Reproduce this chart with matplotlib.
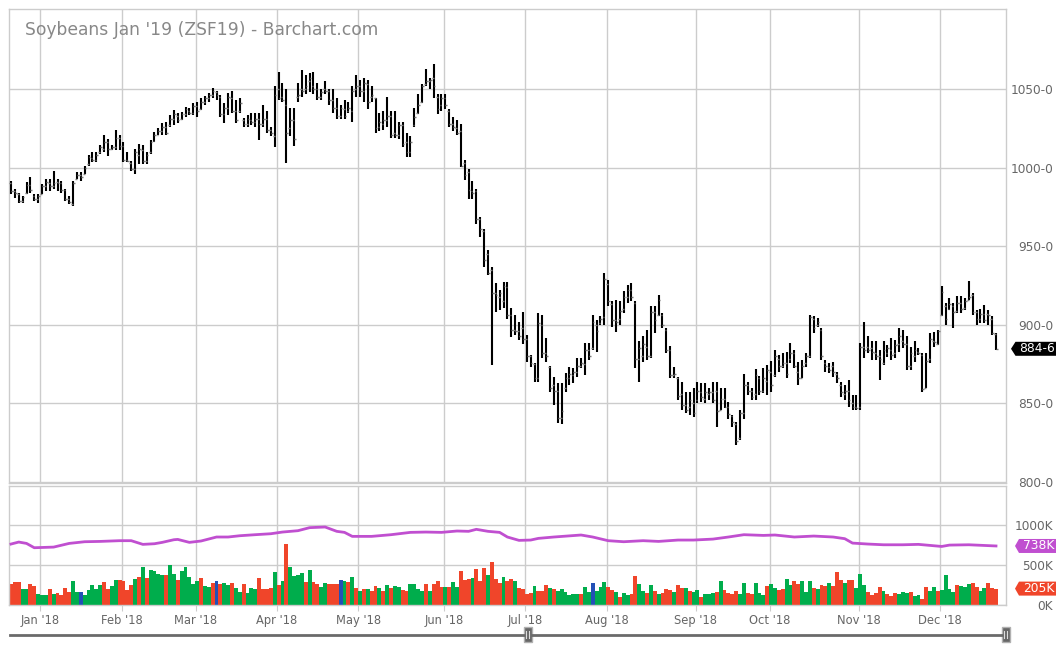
import matplotlib
matplotlib.use("Agg")
import matplotlib.pyplot as plt
import numpy as np
from matplotlib.patches import Polygon, Rectangle

# ---------------- data (daily OHLC, Dec 2017 - Dec 2018) ----------------
opens = [990,985,983,979,984,989,982,980,
         983,988,990,988,991,990,986,980,977,993,995,996,1002,1006,1005,1010,1012,1016,1012,1013,1019,
         1014,1005,1003,999,1008,1011,1004,1010,1017,1021,1023,1026,1027,1031,1033,1031,1034,1036,1035,
         1039,1037,1042,1044,1046,1048,1045,1034,1038,1044,1036,1036,1030,1028,1030,1029,1031,1028,1031,1024,
         1020,1050,1045,1040,1025,1030,1045,1050,1050,1055,1052,1050,1045,1050,1049,1043,1038,1033,1037,1036,1036,
         1050,1052,1049,1053,1045,1044,1026,1028,1030,1033,1022,1021,1027,1016,1010,1027,1035,1042,1053,1055,1057,1045,
         1040,1044,1036,1028,1025,1023,1003,997,985,985,967,960,945,935,920,918,915,924,906,897,896,
         898,891,880,875,866,900,882,873,862,858,841,860,866,868,870,874,875,884,885,900,901,
         905,926,913,903,904,910,918,922,914,878,880,886,880,908,906,906,897,884,868,866,856,849,848,
         850,852,857,853,856,857,858,846,853,848,842,837,828,844,862,858,856,866,858,
         864,870,868,878,874,876,878,882,870,866,876,880,904,900,897,876,873,874,869,862,856,858,850,
         848,848,886,886,885,882,880,876,882,884,882,888,890,888,874,880,883,881,860,878,890,888,
         906,912,910,912,909,914,911,916,919,908,904,907,907,904,894]
highs = [991.6,986.3,984.1,981.9,990.6,994.2,983,983,
         989.5,992.7,992.7,998.1,992.7,991.6,986.3,981.9,991.6,997.4,997,1001.3,1008.2,1009.9,1009.9,1014.2,1020.6,1018.5,1014.2,1023.8,1020.6,
         1016.3,1009.9,1004.5,1012,1015.2,1014.2,1009.9,1017.4,1022.7,1024.9,1028.1,1029.2,1033.5,1036.7,1034.5,1035.6,1038.8,1037.8,1041,
         1042,1044.2,1045.3,1047.4,1050.6,1048.5,1046.4,1041,1047.4,1048.5,1043.1,1044.2,1031.3,1033.5,1034.5,1034.5,1034.5,1040,1036,1026,
         1052,1061,1054,1050,1038,1038,1054,1062,1059,1060,1061,1054,1050,1055,1050,1050,1044,1040,1043,1042,1052,
         1059,1056,1057,1056,1052,1044,1035,1036,1045,1036,1036,1029,1029,1022,1020,1038,1047,1053,1063,1057,1066,1047,
         1047,1047,1037,1032,1030,1028,1004.7,999,991.5,986.7,968.6,961.2,947.5,936.9,926.3,922,927.3,927.3,910.4,906.1,901.9,
         908.3,893.6,880.9,875.5,907.4,906.4,891.5,873.8,867,862.8,862.8,869.1,873.4,872.3,878.7,878.7,888.3,888.3,906.4,903.2,905.3,
         933,928.7,914.9,916,914.9,921.3,925.5,926.6,914.9,889.4,892.6,896.8,911.7,911.7,919.1,907.4,897.9,886.6,873.4,867,863.8,857.4,857.4,
         859.6,863.8,862.8,862.8,859.6,863.8,863.8,859.6,859.6,851,842.6,838.3,845.7,868.7,863.8,859.6,871.7,867.4,872.3,
         874.5,877.2,884,880.9,881.9,883,888.3,884,876.6,877.7,881.9,906.4,905.7,904.3,897.9,877.7,875.5,876.6,870.2,863.8,861.7,864.9,855.3,
         855.3,888.3,901.5,892.6,889.4,889.4,884,889.4,887.2,891.5,890.4,897.9,896.8,892.6,886.2,889.4,885.1,881.9,881.9,895.1,895.7,896.8,
         924.5,913.8,917,913.8,918.5,918.1,917,927.7,920.2,909.6,910,912.8,909.6,905.3,894.7]
lows = [983,980.9,977.7,977.7,983,984.1,978.8,977.7,
        983,985.2,985.2,986.3,985.2,984.1,978.8,976.6,975.5,992.7,991.6,995.9,1001.3,1003.4,1003.4,1008.8,1009.9,1007.7,1010.9,1010.9,1010.9,
        1003.4,1003.4,998.1,995.9,1002.4,1002.4,1002.4,1008.8,1016.3,1020.6,1020.6,1020.6,1026,1027,1028.1,1030.3,1032.4,1033.5,1033.5,
        1032.4,1036.7,1039.9,1042,1044.2,1043.1,1032.4,1028.1,1033.5,1034.5,1028.1,1034.5,1026,1026,1027,1026,1017.4,1026,1022,1020,
        1013,1043,1042,1003,1020,1014,1042,1045,1047,1048,1047,1043,1043,1047,1040,1035,1031,1031,1031,1035,1029,
        1045,1045,1042,1037,1042,1022,1023,1024,1026,1019,1019,1018,1013,1007,1007,1026,1034,1041,1052,1050,1044,1034,
        1036,1037,1026,1023,1021,1000.4,992,980.3,980.3,964.4,955.9,936.9,931.6,874.4,908.3,909.3,910.4,904,892.4,893.4,890.3,
        888.1,876.6,873.4,863.8,863.8,878.7,876.6,857.4,849,837.7,837.2,857.4,861.7,862.8,867,872.3,868.1,877.7,884,883,900,
        900,911.7,898.9,895.7,900,907.4,913.8,914.9,872.3,863.8,876.6,877.7,878.7,894.7,905.3,897.9,881.9,866,866,852.1,845.7,843.6,842.6,
        841.5,850,851,850,852.1,850,835.1,845.7,846.8,840.4,835.1,823.4,826.6,840.4,855.3,852.1,852.1,855.3,856.4,
        855.3,857.4,867,870.2,872.3,865.9,875.5,872.3,861.7,866,873.4,878.7,894.7,898.9,877.7,870.2,869.1,867,862.8,854.3,852.1,847.9,845.7,
        845.7,845.7,878.7,881.9,877.7,877.7,864.9,874.5,879.8,877.7,878.7,883,885.1,871.3,871.3,876.6,880.9,857.4,859.6,875.5,886.2,887.2,
        905.3,900,909.6,897.9,907.4,907.4,909.6,916,906.4,900,901.1,901.1,900,893.6,884]
closes = [985,984,979,981,989,986,980,982,
          988,991,988,990,990,986,980,978,990,995,994,1000,1007,1005,1008,1013,1016,1012,1013,1019,1014,
          1005,1004,999,1010,1012,1004,1008,1016,1021,1023,1026,1022,1031,1034,1030,1034,1037,1035,1039,
          1036,1042,1044,1046,1049,1046,1034,1038,1045,1036,1030,1041,1028,1031,1029,1031,1028,1031,1024,1022,
          1046,1044,1043,1022,1030,1018,1046,1049,1052,1057,1050,1045,1048,1049,1043,1038,1033,1038,1033,1038,1049,
          1052,1049,1054,1042,1046,1025,1029,1030,1033,1021,1021,1027,1015,1010,1016,1032,1040,1052,1055,1056,1052,1037,
          1044,1040,1028,1026,1022,1001,995,986,984,967,961,941,933,920,919,920,925,906,897,896,893,
          891,880,876,866,901,882,880,860,858,841,845,866,869,870,874,876,884,880,902,896,904,
          929,915,903,902,909,918,922,918,878,885,888,880,908,903,916,900,884,868,869,855,849,846,852,
          844,858,854,857,857,852,845,853,848,843,838,826,844,862,858,854,868,858,866,
          871,862,880,874,876,869,882,874,866,874,880,905,898,902,880,874,871,870,866,857,858,852,848,
          847,886,884,884,883,880,878,884,885,881,887,893,888,874,882,884,882,859,877,891,889,896,
          921,904,913,908,914,910,915,918,908,904,907,903,906,895,884.75]

# daily volume (thousands of contracts) and direction vs previous close
volume_k = [263,288,288,200,200,263,238,138,125,125,200,138,150,125,213,163,301,163,163,125,
            188,251,200,251,288,200,238,313,313,301,188,251,326,351,477,339,439,426,389,376,
            376,502,389,313,426,477,351,263,301,339,238,226,276,301,263,276,251,276,213,163,
            263,150,213,200,339,200,200,213,414,251,301,765,
            477,364,376,401,288,439,288,263,226,276,263,263,263,313,301,288,351,213,176,200,
            200,176,238,213,176,251,213,238,226,188,176,263,263,200,176,263,176,263,301,226,
            226,226,288,226,426,313,326,339,451,301,464,376,539,326,276,351,301,326,301,213,200,
            138,150,238,176,176,251,213,200,176,200,163,125,138,138,138,226,163,276,176,226,
            288,226,188,163,100,150,125,138,364,263,176,150,251,176,138,150,200,188,163,251,
            213,213,176,163,188,100,138,138,150,163,301,188,150,138,176,138,276,150,138,276,
            150,125,238,263,213,188,200,326,251,301,263,301,163,301,213,200,251,238,276,238,
            414,313,276,313,313,213,389,251,163,125,150,226,176,138,113,150,138,163,150,163,
            113,125,75,226,176,226,176,188,376,200,163,251,238,226,263,276,226,176,213,276,
            213,205]
volume_dir = ("ddduudduuu" "dudddduunu" "uuuudduudd" "ddududuuuu" "duuduuuuud"
              "uudnduuduu" "duuuddddud" "ud"
              "uuuududduu" "dddnududud" "uddududuud" "duuuududdd" "uduudddudd"
              "duddduddud" "d"
              "dduddduduu" "uuuuduunuu" "udduduuddu" "udududddud" "duduuduuud"
              "udddduuddu" "uuduudduud" "duuududdud" "ddudduuudd" "dduddduuud"
              "uudduuduuu" "uduuudduud" "dd")

# open interest line (thousands), sampled along the trading-day axis
oi_day = [0,2,4,6,11,15,19,23,28,31,34,37,39,42,43,46,49,53,56,59,63,67,70,74,77,81,84,86,88,93,
          98,103,107,111,115,118,120,123,126,128,131,134,136,140,147,150,154,158,163,167,172,176,
          181,185,189,194,197,202,207,212,215,217,221,225,230,234,237,240,242,247,254]
oi_k = [762,787,770,716,724,770,791,795,804,804,758,766,783,816,820,783,800,850,850,866,879,891,
        912,929,967,975,921,908,858,858,879,908,912,908,925,921,946,921,908,850,808,812,833,850,
        875,850,804,791,804,795,812,812,824,850,879,870,875,850,862,850,829,774,762,753,753,758,
        745,732,749,753,738]

# first trading day of each month (index on the trading-day axis)
month_first_day = [8, 29, 48, 69, 90, 112, 133, 154, 177, 196, 219, 240]
month_labels = ["Jan '18", "Feb '18", "Mar '18", "Apr '18", "May '18", "Jun '18",
                "Jul '18", "Aug '18", "Sep '18", "Oct '18", "Nov '18", "Dec '18"]
price_ticks = [800, 850, 900, 950, 1000, 1050]
volume_ticks_k = [0, 500, 1000]
last_price_label = "884-6"

# ---------------- styling ----------------
W, H = 1058, 650
GRID = "#cccccc"
TXT = "#666666"
UP, DOWN, FLAT = "#00ad4c", "#f0452a", "#2350b6"
OI_COLOR = "#c04fd0"

fig = plt.figure(figsize=(W / 100, H / 100), dpi=100)
fig.patch.set_facecolor("white")

left_px, right_px = 9, 1006
ax = fig.add_axes([left_px / W, 1 - 482.5 / H, (right_px - left_px) / W, (482.5 - 9) / H])
axv = fig.add_axes([left_px / W, 1 - 605 / H, (right_px - left_px) / W, (605 - 485.5) / H])

n = len(closes)
x = np.arange(n)
o = np.array(opens, float); h = np.array(highs, float)
l = np.array(lows, float); c = np.array(closes, float)

# price panel
ax.vlines(x, l, h, color="black", lw=1.5, zorder=3)
ax.hlines(o, x - 0.45, x, color="#7a7a7a", lw=1.0, zorder=3)
ax.hlines(c, x, x + 0.45, color="#7a7a7a", lw=1.0, zorder=3)
ax.set_ylim(799.7, 1100.9)

# volume panel
cmap = {"u": UP, "d": DOWN, "n": FLAT}
vcol = [cmap[d] for d in volume_dir]
axv.bar(x, np.array(volume_k) * 1000, width=1.0, color=vcol, linewidth=0, zorder=2)
axv.plot(oi_day, np.array(oi_k) * 1000, color=OI_COLOR, lw=2, zorder=3)
axv.set_ylim(0, 1494000)

xl = (-2 / 3.878, n - 1 + 10 / 3.878)
tick_pos = np.array(month_first_day) - 0.4
for a in (ax, axv):
    a.set_xlim(*xl)
    a.set_facecolor("white")
    for s in a.spines.values():
        s.set_color(GRID)
        s.set_linewidth(1)
    a.grid(True, color=GRID, lw=1, zorder=0)
    a.set_axisbelow(True)
    a.yaxis.tick_right()
    a.set_xticks(tick_pos)

ax.set_xticklabels([])
ax.tick_params(axis="x", length=0)
ax.set_yticks(price_ticks)
ax.set_yticklabels([f"{v}-0" for v in price_ticks])
axv.set_yticks([v * 1000 for v in volume_ticks_k])
axv.set_yticklabels([f"{v}K" for v in volume_ticks_k])
axv.set_xticklabels(month_labels)
axv.tick_params(axis="x", length=4.5, color=GRID, labelcolor=TXT, labelsize=8.3, pad=2)
for a in (ax, axv):
    a.tick_params(axis="y", length=0, labelcolor=TXT, labelsize=8.7, pad=33.8)
    for lab in a.get_yticklabels():
        lab.set_horizontalalignment("right")

# title
fig.text(25 / W, 1 - 35.3 / H, "Soybeans Jan '19 (ZSF19) - Barchart.com",
         color="#888888", fontsize=12.3, va="baseline", ha="left")

# overlay in pixel coordinates for tags and scrollbar
ov = fig.add_axes([0, 0, 1, 1], zorder=10)
ov.set_xlim(0, W); ov.set_ylim(H, 0); ov.axis("off")
ov.patch.set_alpha(0)


def ypix(axes, val):
    return H - axes.transData.transform((0, val))[1]


def tag(y, text, color, xp, xb, xr=1056, hh=7):
    ov.add_patch(Polygon([(xp, y), (xb, y - hh), (xr, y - hh), (xr, y + hh), (xb, y + hh)],
                         closed=True, fc=color, ec="none"))
    ov.text((xb + xr) / 2 + 1, y, text, color="white", fontsize=8.8, ha="center", va="center")


tag(ypix(ax, closes[-1]), last_price_label, "black", 1011, 1015.5)
tag(ypix(axv, oi_k[-1] * 1000), f"{oi_k[-1]}K", OI_COLOR, 1015, 1019)
tag(ypix(axv, volume_k[-1] * 1000), f"{volume_k[-1]}K", DOWN, 1015, 1019)

# scrollbar
ov.plot([10, 1006], [635, 635], color="#6a6a6a", lw=2)
for hx in (527.5, 1005.5):
    ov.add_patch(Rectangle((hx - 4, 627), 8, 15, fc="#666666", ec="#b0b0b0", lw=1))
    ov.plot([hx - 1.2, hx - 1.2], [631, 638], color="#dddddd", lw=0.8)
    ov.plot([hx + 1.2, hx + 1.2], [631, 638], color="#dddddd", lw=0.8)

fig.savefig("out.png", dpi=100)
